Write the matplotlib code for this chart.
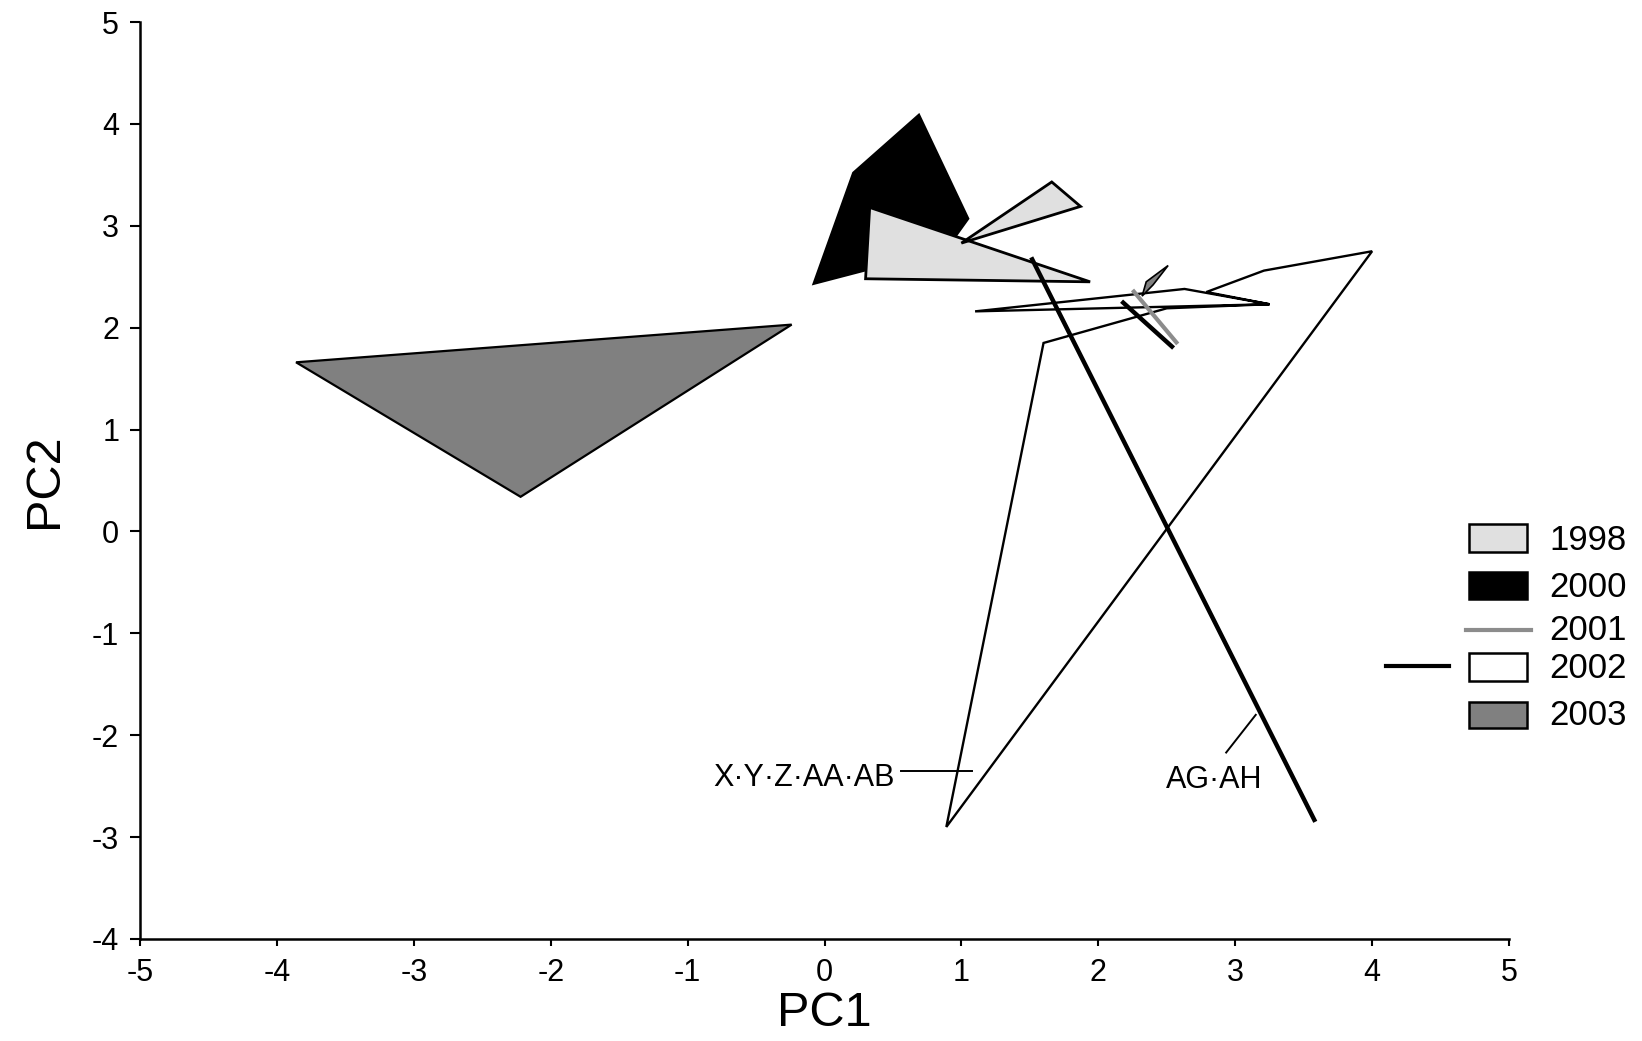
import matplotlib
matplotlib.use("Agg")
import matplotlib.pyplot as plt
from matplotlib.patches import Polygon, Rectangle
from matplotlib.lines import Line2D

plt.rcParams['font.family'] = ['Liberation Sans', 'DejaVu Sans']
plt.rcParams['axes.unicode_minus'] = False

# ---- data (PC1, PC2) ----
poly_1998_a_x = [0.33, 0.30, 1.94]
poly_1998_a_y = [3.18, 2.48, 2.45]
poly_1998_b_x = [1.00, 1.66, 1.87]
poly_1998_b_y = [2.83, 3.43, 3.19]

poly_2000_x = [-0.08, 0.21, 0.69, 1.05, 0.89]
poly_2000_y = [2.43, 3.52, 4.09, 3.07, 2.77]

line_2001_x = [2.25, 2.58]
line_2001_y = [2.37, 1.84]

poly_2002_x = [0.89, 1.60, 2.50, 3.25, 1.10, 2.63, 3.25, 2.79, 3.21, 4.00]
poly_2002_y = [-2.90, 1.85, 2.19, 2.23, 2.16, 2.38, 2.23, 2.35, 2.56, 2.75]
line_2002_a_x = [1.51, 3.585]
line_2002_a_y = [2.69, -2.85]
line_2002_b_x = [2.17, 2.55]
line_2002_b_y = [2.26, 1.80]

poly_2003_a_x = [-3.86, -0.24, -2.22]
poly_2003_a_y = [1.66, 2.03, 0.34]
poly_2003_b_x = [2.32, 2.35, 2.51, 2.40]
poly_2003_b_y = [2.31, 2.45, 2.61, 2.42]

label_1_text = "X\u00b7Y\u00b7Z\u00b7AA\u00b7AB"
label_1_xy = (0.51, -2.42)
label_1_line_x = [0.56, 1.075]
label_1_line_y = [-2.35, -2.35]
label_2_text = "AG\u00b7AH"
label_2_xy = (2.85, -2.44)
label_2_line_x = [2.934, 3.150]
label_2_line_y = [-2.17, -1.80]

legend_labels = ["1998", "2000", "2001", "2002", "2003"]
xticks = list(range(-5, 6))
yticks = list(range(-4, 6))

C_LIGHT = "#e0e0e0"
C_DARK = "#808080"
C_2001 = "#8c8c8c"

W, H = 1642, 1041
fig = plt.figure(figsize=(W / 100, H / 100), dpi=100)
ax = fig.add_axes([140 / W, 1 - 939 / H, (1509 - 140) / W, (939 - 22) / H])
ax.set_xlim(-5, 5)
ax.set_ylim(-4, 5)

def poly(xs, ys, fc, ec="black", lw=1.6, z=2):
    ax.add_patch(Polygon(list(zip(xs, ys)), closed=True, facecolor=fc,
                         edgecolor=ec, linewidth=lw, joinstyle="miter", zorder=z))

poly(poly_2003_a_x, poly_2003_a_y, C_DARK)
poly(poly_2000_x, poly_2000_y, "black")
poly(poly_1998_a_x, poly_1998_a_y, C_LIGHT, lw=2.0)
poly(poly_1998_b_x, poly_1998_b_y, C_LIGHT, lw=2.0)
poly(poly_2002_x, poly_2002_y, "none", lw=1.7)
ax.plot(line_2002_a_x, line_2002_a_y, color="black", lw=3.2, zorder=4, solid_capstyle="butt")
ax.plot(line_2002_b_x, line_2002_b_y, color="black", lw=3.2, zorder=4, solid_capstyle="butt")
poly(poly_2003_b_x, poly_2003_b_y, C_DARK, lw=1.2, z=5)
ax.plot(line_2001_x, line_2001_y, color=C_2001, lw=3.0, zorder=6, solid_capstyle="butt")

ax.plot(label_1_line_x, label_1_line_y, color="black", lw=1.4)
ax.text(*label_1_xy, label_1_text, ha="right", va="center", fontsize=22)
ax.plot(label_2_line_x, label_2_line_y, color="black", lw=1.4)
ax.text(*label_2_xy, label_2_text, ha="center", va="center", fontsize=22)

for s in ["top", "right"]:
    ax.spines[s].set_visible(False)
for s in ["left", "bottom"]:
    ax.spines[s].set_linewidth(1.8)
ax.set_xticks(xticks)
ax.set_yticks(yticks)
ax.set_xticklabels([str(t) for t in xticks])
ax.set_yticklabels([str(t) for t in yticks])
ax.tick_params(axis="y", direction="out", length=7, width=1.5, labelsize=22, pad=8)
ax.tick_params(axis="x", direction="out", length=5, width=1.5, labelsize=22, pad=9)
ax.set_xlabel("PC1", fontsize=35, labelpad=2)
ax.set_ylabel("PC2", fontsize=35, labelpad=18)

# ---- legend (manual, figure pixel coordinates) ----
tf = fig.transFigure
def fx(px):
    return px / W
def fy(py):
    return 1 - py / H

box_x0, box_x1 = 1469, 1527
box_rows = {"1998": (523.5, 552), "2000": (571.5, 598.5), "2002": (652.5, 681), "2003": (702, 727.8)}
box_fc = {"1998": C_LIGHT, "2000": "black", "2002": "white", "2003": C_DARK}
for lab, (y0, y1) in box_rows.items():
    fig.add_artist(Rectangle((fx(box_x0), fy(y1)), fx(box_x1) - fx(box_x0), fy(y0) - fy(y1),
                             transform=tf, facecolor=box_fc[lab], edgecolor="black", linewidth=1.8))
fig.add_artist(Line2D([fx(1466), fx(1531)], [fy(629.5), fy(629.5)], transform=tf,
                      color=C_2001, lw=3.0))
fig.add_artist(Line2D([fx(1386), fx(1449)], [fy(666), fy(666)], transform=tf,
                      color="black", lw=3.0))
text_y = [540, 587.5, 630, 669, 715.5]
for lab, ty in zip(legend_labels, text_y):
    fig.text(fx(1549), fy(ty), lab, ha="left", va="center", fontsize=25)

fig.savefig("out.png", dpi=100)
